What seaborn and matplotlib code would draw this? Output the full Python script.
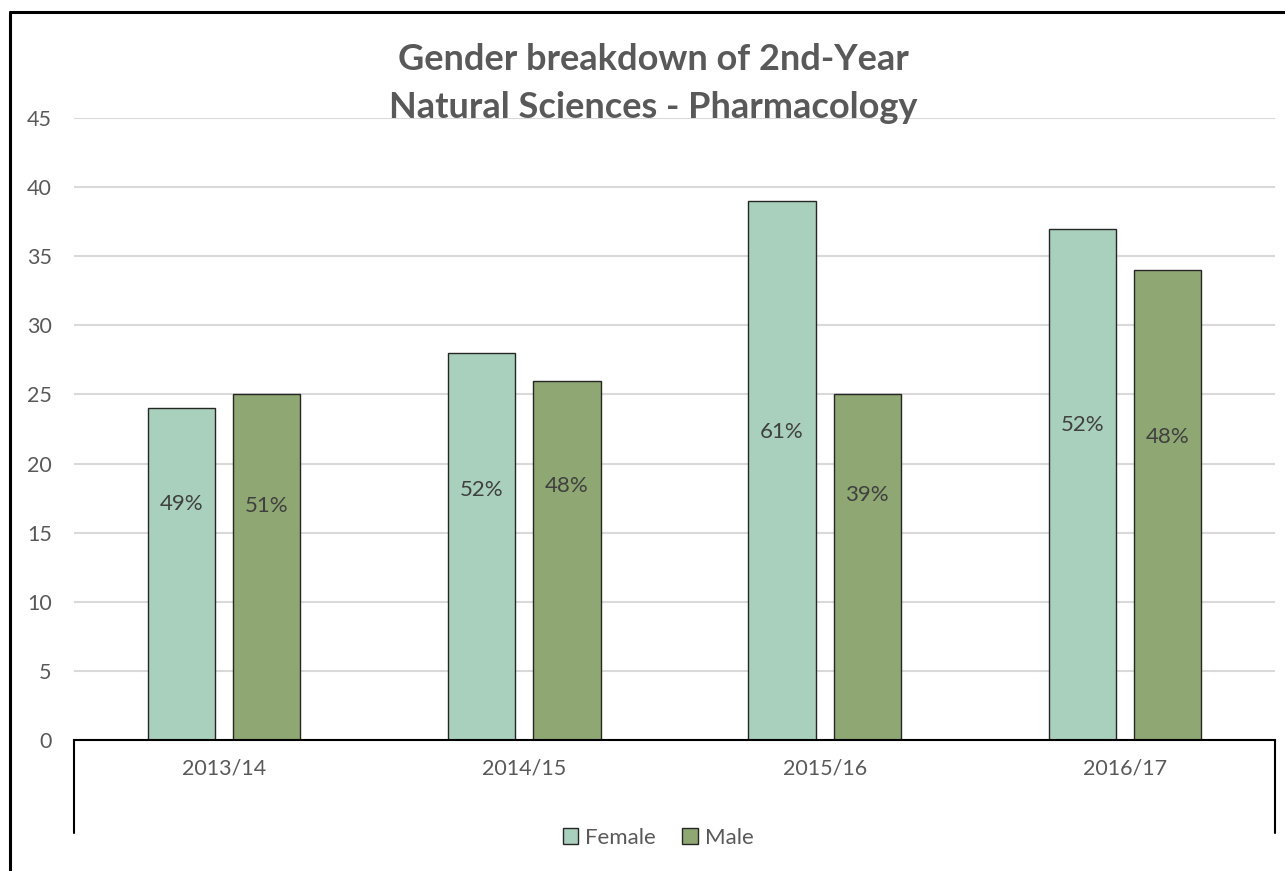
import numpy as np
import pandas as pd
import matplotlib.pyplot as plt
import seaborn as sns
from matplotlib.lines import Line2D
from matplotlib.patches import Patch

# Data
years = ['2013/14', '2014/15', '2015/16', '2016/17']
female = [24, 28, 39, 37]
male = [25, 26, 25, 34]
# heights where the percentage labels sit inside the bars
female_label_y = [17.1, 18.1, 22.3, 22.8]
male_label_y = [16.9, 18.4, 17.7, 21.9]
y_ticks = list(range(0, 50, 5))

colors = {'Female': '#A9D0BC', 'Male': '#8FA772'}
TEXT = '#595959'

df = pd.DataFrame({
    'year': years * 2,
    'count': female + male,
    'gender': ['Female'] * len(years) + ['Male'] * len(years),
})

sns.set_style('white')
plt.rcParams['font.family'] = ['Lato', 'DejaVu Sans']

fig = plt.figure(figsize=(12.85, 8.71), dpi=100)
ax = fig.add_axes([74 / 1285, 1 - 740 / 871, (1275 - 74) / 1285, 622 / 871])

sns.barplot(data=df, x='year', y='count', hue='gender', palette=colors,
            saturation=1, width=0.567, gap=0.21, edgecolor='#262626',
            linewidth=1.0, legend=False, ax=ax, zorder=3)

ax.set_ylim(0, 45)
ax.set_xlim(-0.5, len(years) - 0.5)
ax.set_yticks(y_ticks)
ax.yaxis.grid(True, color='#D9D9D9', linewidth=1.5, zorder=0)
ax.set_axisbelow(True)
for s in ['left', 'right', 'top']:
    ax.spines[s].set_visible(False)
ax.spines['bottom'].set_color('black')
ax.spines['bottom'].set_linewidth(1.5)
ax.spines['bottom'].set_zorder(4)
ax.tick_params(axis='y', length=0, pad=16, labelsize=15.5, labelcolor=TEXT)
ax.tick_params(axis='x', length=0, pad=13, labelsize=15.5, labelcolor=TEXT)
ax.set_xlabel('')
ax.set_ylabel('')

# long category-axis ticks at both ends
for xe in [0, 1]:
    ax.plot([xe, xe], [0, -0.1495], transform=ax.transAxes, color='black',
            linewidth=1.5, clip_on=False)

# percentage labels
totals = np.array(female) + np.array(male)
f_pct = np.round(np.array(female) / totals * 100).astype(int)
m_pct = 100 - f_pct
fem_bars = ax.containers[0]
male_bars = ax.containers[1]
for bar, p, ly in zip(fem_bars, f_pct, female_label_y):
    ax.text(bar.get_x() + bar.get_width() / 2, ly, f'{p}%', ha='center',
            va='center', fontsize=16, color='#404040', zorder=5)
for bar, p, ly in zip(male_bars, m_pct, male_label_y):
    ax.text(bar.get_x() + bar.get_width() / 2, ly, f'{p}%', ha='center',
            va='center', fontsize=16, color='#404040', zorder=5)

# title
fig.text(653 / 1285, 1 - 60 / 871, 'Gender breakdown of 2nd-Year', ha='center',
         va='center', fontsize=26, fontweight='bold', color=TEXT)
fig.text(653 / 1285, 1 - 107 / 871, 'Natural Sciences - Pharmacology', ha='center',
         va='center', fontsize=26, fontweight='bold', color=TEXT)

# legend
handles = [Patch(facecolor=colors[g], edgecolor='#262626', linewidth=1.0) for g in colors]
fig.legend(handles, list(colors), loc='center', bbox_to_anchor=(658 / 1285, 1 - 838 / 871),
           ncol=2, frameon=False, fontsize=16, labelcolor=TEXT, handlelength=0.7,
           handleheight=0.7, handletextpad=0.3, columnspacing=1.2)

# chart frame (left and top edges)
fig.add_artist(Line2D([10 / 1285, 10 / 1285], [0, 1 - 12 / 871], color='black',
                      linewidth=2.2, transform=fig.transFigure))
fig.add_artist(Line2D([10 / 1285, 1], [1 - 12 / 871, 1 - 12 / 871], color='black',
                      linewidth=2.2, transform=fig.transFigure))

fig.savefig('out.png', dpi=100, facecolor='white')
